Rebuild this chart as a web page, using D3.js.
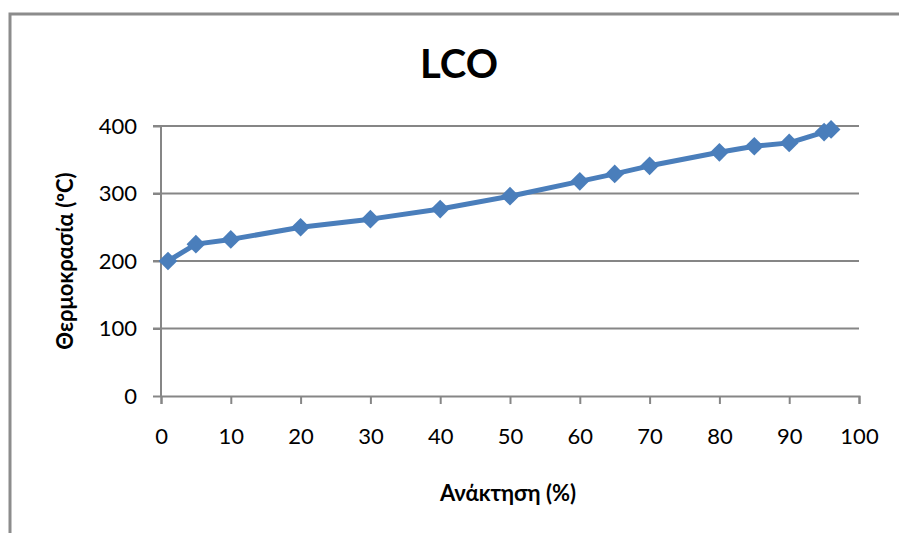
<!DOCTYPE html>
<html lang="el">
    <head>
        <meta charset="utf-8">
        <title>LCO</title>
        <script type="text/javascript" src="https://d3js.org/d3.v7.min.js"></script>
        <style type="text/css">
            body { margin: 0; background: #fff; }
            .axis path,
            .axis line { stroke: #868686; stroke-width: 2px; }
            .axis text {
                font-family: "Lato", "Noto Sans", sans-serif;
                font-size: 22px;
                fill: #000;
            }
            .grid line { stroke: #868686; stroke-width: 2px; }
            .label {
                font-family: "Lato", "Noto Sans", sans-serif;
                font-weight: bold;
                font-size: 22px;
            }
        </style>
    </head>
    <body>
        <script type="text/javascript">
            const width = 899;
            const height = 533;

            // recovery (%) and temperature (C)
            const recovery = [1, 5, 10, 20, 30, 40, 50, 60, 65, 70, 80, 85, 90, 95, 96];
            const temperature = [200, 225, 232, 250, 262, 277, 296, 318, 329, 341, 361, 370, 375, 391, 395];
            const xTicks = [0, 10, 20, 30, 40, 50, 60, 70, 80, 90, 100];
            const yTicks = [0, 100, 200, 300, 400];

            const dataset = recovery.map((r, i) => ({x: r, y: temperature[i]}));

            const xScale = d3.scaleLinear()
                             .domain([0, 100])
                             .range([161, 859]);
            const yScale = d3.scaleLinear()
                             .domain([0, 400])
                             .range([396, 126]);

            const svg = d3.select("body")
                          .append("svg")
                          .attr("width", width)
                          .attr("height", height);

            // chart frame (only top and left show in the picture)
            svg.append("path")
               .attr("d", "M10,540 L10,14 L905,14")
               .attr("fill", "none")
               .attr("stroke", "#8c8c8c")
               .attr("stroke-width", 3);

            // horizontal gridlines
            svg.append("g")
               .attr("class", "grid")
               .selectAll("line")
               .data(yTicks.filter(d => d > 0))
               .enter()
               .append("line")
               .attr("x1", 153)
               .attr("x2", 859)
               .attr("y1", d => yScale(d))
               .attr("y2", d => yScale(d));

            const bottomAxis = d3.axisBottom(xScale)
                                 .tickValues(xTicks)
                                 .tickSize(8)
                                 .tickSizeOuter(8)
                                 .tickPadding(24);
            const leftAxis = d3.axisLeft(yScale)
                               .tickValues(yTicks)
                               .tickSize(8)
                               .tickSizeOuter(0)
                               .tickPadding(16);

            svg.append("g")
               .attr("class", "axis")
               .attr("transform", "translate(0," + yScale(0) + ")")
               .call(bottomAxis);

            svg.append("g")
               .attr("class", "axis")
               .attr("transform", "translate(" + xScale(0) + ",0)")
               .call(leftAxis)
               .call(g => g.select(".domain").attr("d", "M0," + yScale(400) + "V" + yScale(0)));

            // series line
            const line = d3.line()
                           .x(d => xScale(d.x))
                           .y(d => yScale(d.y));

            svg.append("path")
               .datum(dataset)
               .attr("d", line)
               .attr("fill", "none")
               .attr("stroke", "#4a7ebb")
               .attr("stroke-width", 5)
               .attr("stroke-linejoin", "round");

            // diamond markers
            const diamond = d3.symbol().type(d3.symbolSquare).size(175);
            svg.selectAll(".marker")
               .data(dataset)
               .enter()
               .append("path")
               .attr("class", "marker")
               .attr("d", diamond)
               .attr("transform", d => "translate(" + xScale(d.x) + "," + yScale(d.y) + ") rotate(45)")
               .attr("fill", "#4a7ebb");

            // titles
            svg.append("text")
               .attr("x", 459)
               .attr("y", 78)
               .attr("text-anchor", "middle")
               .style("font-family", "Lato, 'Noto Sans', sans-serif")
               .style("font-weight", "bold")
               .style("font-size", "40px")
               .text("LCO");

            svg.append("text")
               .attr("class", "label")
               .attr("x", 508)
               .attr("y", 501)
               .attr("text-anchor", "middle")
               .text("Ανάκτηση (%)");

            svg.append("text")
               .attr("class", "label")
               .attr("transform", "translate(73,261) rotate(-90)")
               .attr("text-anchor", "middle")
               .text("Θερμοκρασία (ºC)");
        </script>
    </body>
</html>
